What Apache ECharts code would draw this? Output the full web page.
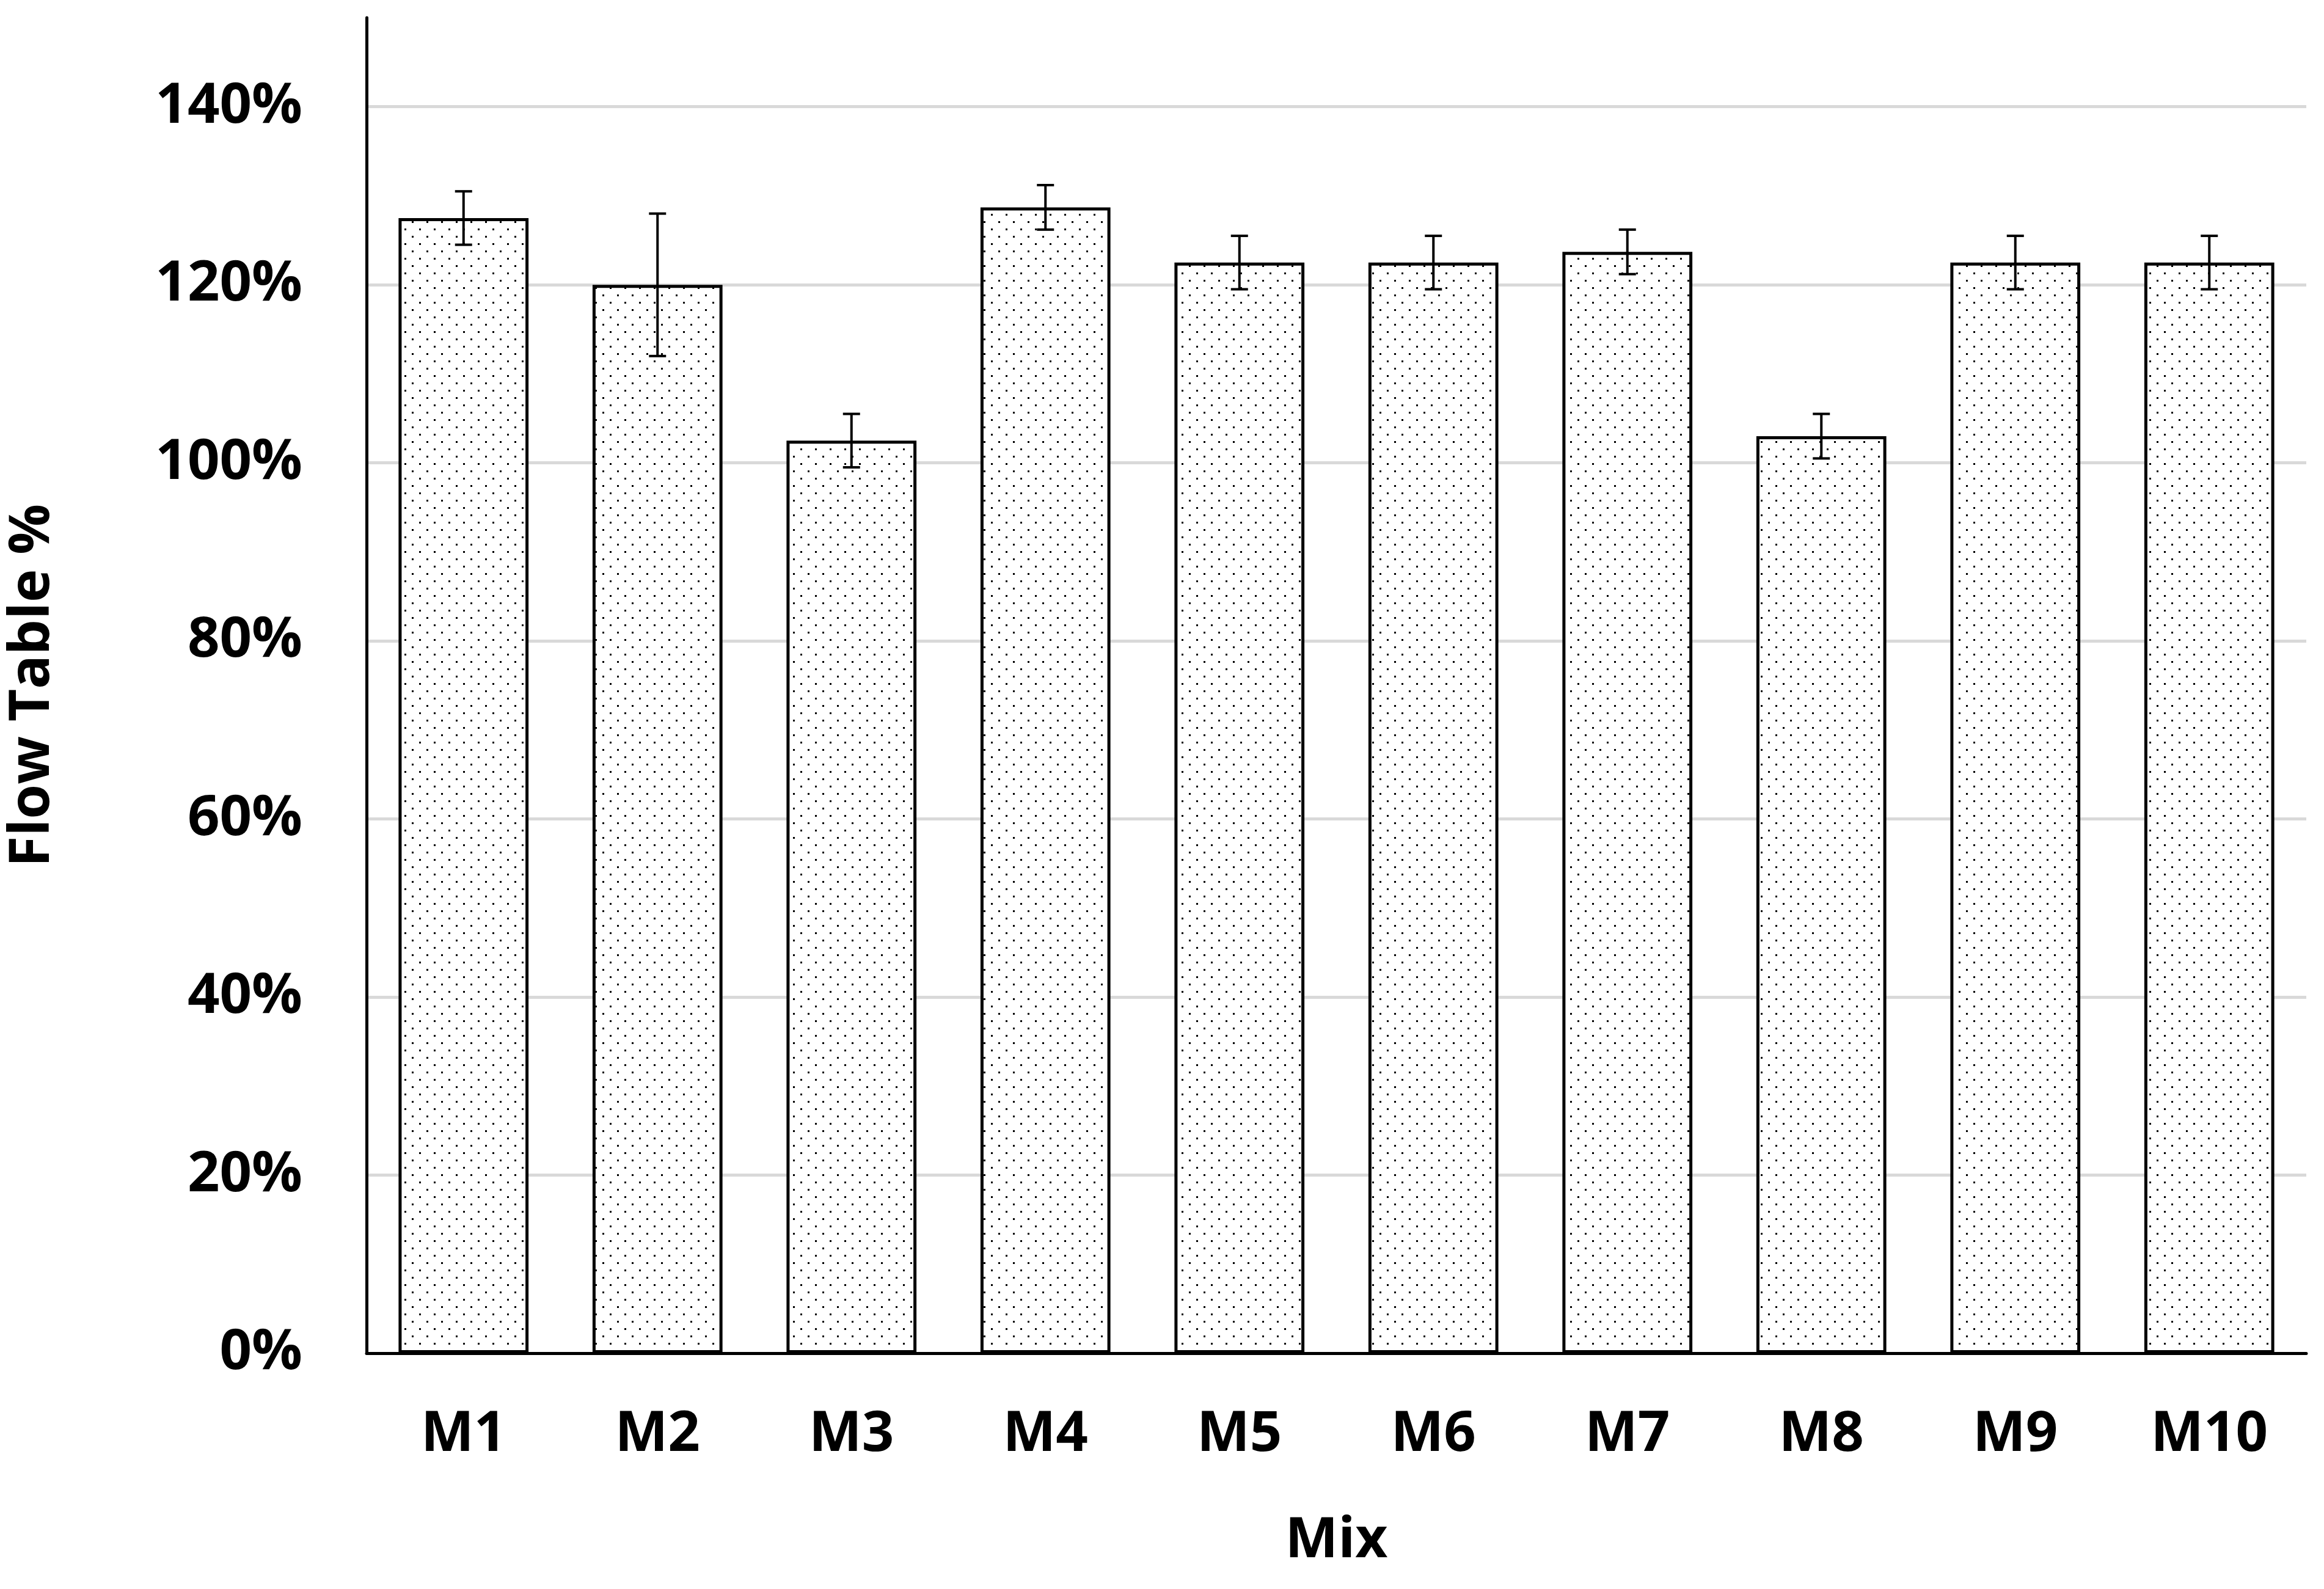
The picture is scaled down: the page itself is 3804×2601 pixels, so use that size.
<!DOCTYPE html>
<html><head><meta charset="utf-8">
<script src="https://cdn.jsdelivr.net/npm/echarts@6/dist/echarts.min.js"></script>
<style>html,body{margin:0;padding:0;background:#fff}#c{width:3804px;height:2601px}</style>
</head><body><div id="c"></div>
<script>
const categories = ['M1','M2','M3','M4','M5','M6','M7','M8','M9','M10'];
const values = [1.275,1.20,1.025,1.287,1.225,1.225,1.237,1.030,1.225,1.225];
const errors = [0.03,0.08,0.03,0.025,0.03,0.03,0.025,0.025,0.03,0.03];
const yTicks = [0,0.2,0.4,0.6,0.8,1.0,1.2,1.4];

const pc = document.createElement('canvas');
pc.width = 24; pc.height = 24;
const g = pc.getContext('2d');
g.fillStyle = '#fff'; g.fillRect(0,0,24,24);
g.fillStyle = '#000';
g.fillRect(2,2,3,3); g.fillRect(14,14,3,3);

const font = '"Open Sans", "Liberation Sans", sans-serif';
const chart = echarts.init(document.getElementById('c'));
chart.setOption({
  animation:false,
  grid:{left:590,right:29,top:29,bottom:386},
  xAxis:{type:'category',data:categories,
    axisLine:{lineStyle:{color:'#000',width:5}},axisTick:{show:false},
    axisLabel:{color:'#000',fontSize:92,fontWeight:'bold',fontFamily:font,margin:88},
    name:'Mix',nameLocation:'middle',nameGap:262,
    nameTextStyle:{color:'#000',fontSize:92,fontWeight:'bold',fontFamily:font}},
  yAxis:{type:'value',min:0,max:1.5,interval:0.2,
    axisLine:{show:true,lineStyle:{color:'#000',width:5}},axisTick:{show:false},
    splitLine:{showMaxLine:false,lineStyle:{color:'#d9d9d9',width:5}},
    axisLabel:{color:'#000',fontSize:92,fontWeight:'bold',fontFamily:font,margin:105,showMaxLabel:false,
      formatter:v=>yTicks.some(t=>Math.abs(t-v)<1e-6)?Math.round(v*100)+'%':''},
    name:'Flow Table %',nameLocation:'middle',nameGap:500,
    nameTextStyle:{color:'#000',fontSize:92,fontWeight:'bold',fontFamily:font}},
  series:[
    {type:'bar',data:values,barWidth:'67%',
      itemStyle:{color:{image:pc,repeat:'repeat'},borderColor:'#000',borderWidth:5}},
    {type:'custom',data:values.map((v,i)=>[i,v-errors[i],v+errors[i]]),z:10,
      renderItem:(p,api)=>{
        const lo=api.coord([api.value(0),api.value(1)]);
        const hi=api.coord([api.value(0),api.value(2)]);
        const x=lo[0],w=14;
        const st={stroke:'#000',lineWidth:4};
        return {type:'group',children:[
          {type:'line',shape:{x1:x,y1:lo[1],x2:x,y2:hi[1]},style:st},
          {type:'line',shape:{x1:x-w,y1:lo[1],x2:x+w,y2:lo[1]},style:st},
          {type:'line',shape:{x1:x-w,y1:hi[1],x2:x+w,y2:hi[1]},style:st}]};
      }}
  ]
});
</script></body></html>
